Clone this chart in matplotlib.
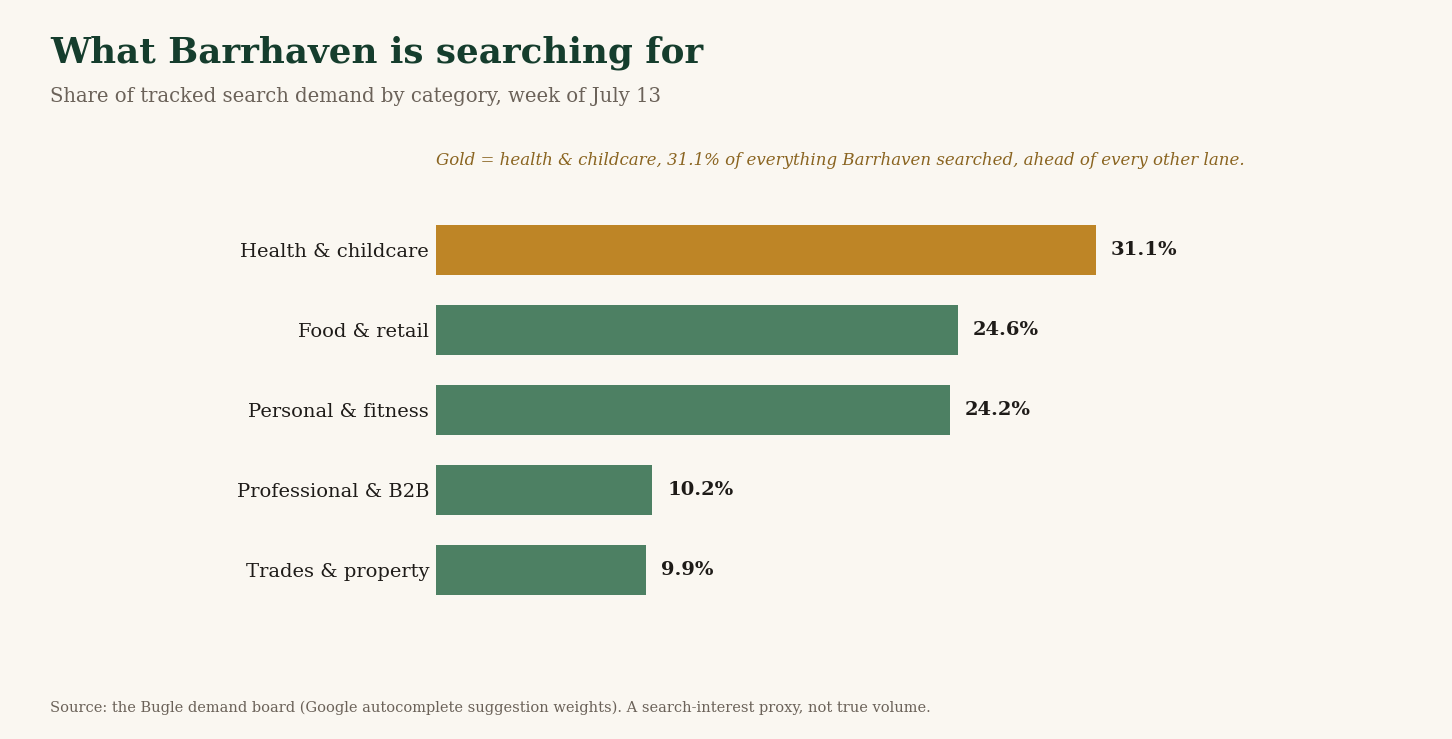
import matplotlib
matplotlib.use("Agg")
import matplotlib.pyplot as plt

categories = ["Health & childcare", "Food & retail", "Personal & fitness",
              "Professional & B2B", "Trades & property"]
shares = [31.1, 24.6, 24.2, 10.2, 9.9]
value_labels = ["31.1%", "24.6%", "24.2%", "10.2%", "9.9%"]

BG = "#FAF7F1"
GOLD = "#BE8526"
GREEN = "#4D8063"
TITLE = "#153D2D"
SUB = "#6B6259"
ANNO = "#8A6420"
INK = "#1E1B18"
FONT = "DejaVu Serif"

W, H = 1452, 739
fig = plt.figure(figsize=(W / 100, H / 100), dpi=100, facecolor=BG)

# axes: x from 436 to 1246 px, y from 210 to 610 px
ax = fig.add_axes([436 / W, 1 - 610 / H, (1246 - 436) / W, 400 / H])
ax.set_facecolor(BG)
px_per_unit = 660 / 31.1
ax.set_xlim(0, (1246 - 436) / px_per_unit)
ax.set_ylim(len(categories) - 0.5, -0.5)

ypos = list(range(len(categories)))
colors = [GOLD if i == 0 else GREEN for i in ypos]
ax.barh(ypos, shares, height=0.625, color=colors, edgecolor="none")

for y, v, lab in zip(ypos, shares, value_labels):
    ax.text(v + 15 / px_per_unit, y, lab, va="center", ha="left",
            fontsize=14.0, fontweight="bold", color=INK, family=FONT)

ax.set_yticks(ypos)
ax.set_yticklabels(categories, fontsize=14.0, color=INK, family=FONT)
ax.tick_params(axis="y", length=0, pad=5)
ax.set_xticks([])
for s in ax.spines.values():
    s.set_visible(False)

fig.text(50 / W, 1 - 63 / H, "What Barrhaven is searching for", fontsize=25.7,
         fontweight="bold", color=TITLE, family=FONT, va="baseline")
fig.text(50 / W, 1 - 102 / H, "Share of tracked search demand by category, week of July 13",
         fontsize=14.1, color=SUB, family=FONT, va="baseline")
fig.text(436 / W, 1 - 165 / H,
         "Gold = health & childcare, 31.1% of everything Barrhaven searched, ahead of every other lane.",
         fontsize=12.0, style="italic", color=ANNO, family=FONT, va="baseline")
fig.text(50 / W, 1 - 712 / H,
         "Source: the Bugle demand board (Google autocomplete suggestion weights). A search-interest proxy, not true volume.",
         fontsize=10.55, color=SUB, family=FONT, va="baseline")

fig.savefig("out.png", dpi=100, facecolor=BG)
